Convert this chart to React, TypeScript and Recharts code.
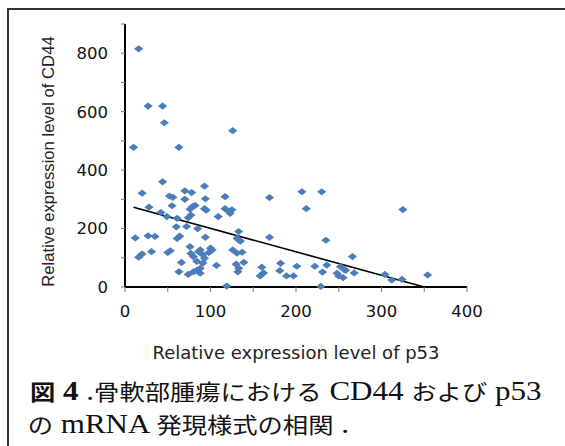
import { Label, ReferenceLine, Scatter, ScatterChart, XAxis, YAxis } from "recharts";

// p53 (x) and CD44 (y) relative expression
const p53 = [
  16, 27, 44, 46, 10, 63, 126, 44, 93, 20,
  52, 56, 70, 78, 70, 94, 117, 169, 207, 230,
  212, 325, 28, 55, 76, 79, 82, 93, 95, 117,
  121, 125, 123, 42, 49, 61, 74, 77, 109, 60,
  72, 85, 133, 12, 27, 35, 61, 64, 94, 131,
  135, 133, 169, 235, 16, 20, 31, 50, 53, 76,
  77, 80, 86, 88, 91, 93, 100, 98, 102, 66,
  84, 91, 88, 84, 88, 80, 74, 63, 107, 126,
  131, 137, 130, 133, 132, 139, 119, 160, 158, 162,
  182, 181, 189, 197, 201, 222, 231, 229, 236, 248,
  252, 256, 250, 255, 258, 266, 268, 304, 312, 324,
  354,
];
const cd44 = [
  815, 619, 619, 562, 478, 478, 535, 360, 345, 321,
  311, 307, 329, 323, 300, 302, 309, 306, 326, 326,
  268, 265, 273, 278, 266, 275, 279, 268, 263, 268,
  260, 264, 252, 255, 241, 235, 237, 246, 241, 206,
  207, 200, 190, 168, 175, 173, 166, 174, 170, 167,
  157, 161, 170, 160, 102, 113, 121, 118, 124, 138,
  115, 104, 121, 127, 110, 98, 133, 118, 127, 84,
  88, 82, 64, 57, 47, 52, 43, 52, 74, 127,
  116, 119, 78, 64, 52, 84, 3, 68, 38, 48,
  81, 56, 38, 38, 71, 71, 51, 2, 75, 47,
  70, 61, 38, 32, 57, 104, 48, 43, 24, 26,
  41,
];

// linear trendline end points
const trendX = [10, 350];
const trendY = [273, 0];

const xTicks = [0, 50, 100, 150, 200, 250, 300, 350, 400];
const yTicks = [0, 100, 200, 300, 400, 500, 600, 700, 800, 900];

const points = p53.map((x, i) => ({ x, y: cd44[i] }));

const MARKER = "#4A7DBA";
const TICK_FONT = { fontFamily: "DejaVu Sans", fontSize: 16.5, fill: "#111" };

function Diamond(props: any) {
  const { cx, cy } = props;
  if (cx == null || cy == null) return null;
  return (
    <polygon
      points={`${cx},${cy - 3.6} ${cx + 4.6},${cy} ${cx},${cy + 3.6} ${cx - 4.6},${cy}`}
      fill={MARKER}
    />
  );
}

function YTitle(props: any) {
  const vb = props.viewBox;
  const cx = vb.x - 16.5;
  const cy = vb.y + vb.height / 2 + 6;
  return (
    <text
      x={cx}
      y={cy}
      transform={`rotate(-90, ${cx}, ${cy})`}
      textAnchor="middle"
      dominantBaseline="central"
      fontFamily="Liberation Sans, Arial"
      fontSize={16.7}
      fill="#222"
    >
      Relative expression level of CD44
    </text>
  );
}

export default function App() {
  return (
    <div style={{ position: "absolute", left: 0, top: 0, width: 565, height: 446, background: "#fff" }}>
      <div
        style={{
          position: "absolute",
          left: 7,
          top: 8,
          width: 558,
          height: 438,
          boxSizing: "border-box",
          borderLeft: "2px solid #333",
          borderTop: "2px solid #333",
        }}
      />
      <div style={{ position: "absolute", left: 0, top: 0 }}>
        <ScatterChart width={565} height={446} margin={{ top: 24, right: 98, left: 65, bottom: 129 }}>
          <XAxis
            type="number"
            dataKey="x"
            domain={[0, 400]}
            ticks={xTicks}
            interval={0}
            height={30}
            axisLine={{ stroke: "#000", strokeWidth: 2 }}
            tickLine={{ stroke: "#777" }}
            tickSize={5}
            tickMargin={13}
            tick={TICK_FONT}
            tickFormatter={(v) => (v % 100 === 0 ? String(v) : "")}
          >
            <Label
              value="Relative expression level of p53"
              position="bottom"
              offset={29}
              style={{ fontFamily: "DejaVu Sans", fontSize: 18, fill: "#222" }}
            />
          </XAxis>
          <YAxis
            type="number"
            dataKey="y"
            domain={[0, 900]}
            ticks={yTicks}
            interval={0}
            width={60}
            axisLine={{ stroke: "#000", strokeWidth: 2 }}
            tickLine={{ stroke: "#777" }}
            tickSize={4}
            tickMargin={13}
            tick={TICK_FONT}
            tickFormatter={(v) => (v % 200 === 0 && v <= 800 ? String(v) : "")}
          >
            <Label content={<YTitle />} />
          </YAxis>
          <Scatter data={points} shape={<Diamond />} isAnimationActive={false} />
          <ReferenceLine
            segment={[
              { x: trendX[0], y: trendY[0] },
              { x: trendX[1], y: trendY[1] },
            ]}
            stroke="#000"
            strokeWidth={1.6}
          />
        </ScatterChart>
      </div>
      <svg
        width={565}
        height={446}
        style={{ position: "absolute", left: 0, top: 0, pointerEvents: "none" }}
      >
        <g transform="translate(30,0) scale(1.15,1)">
          <text x={0} y={399.7} fill="#111" style={{ whiteSpace: "pre" }} fontFamily="Liberation Serif">
            <tspan fontFamily="Noto Sans CJK JP" fontSize={22} fontWeight="bold">図</tspan>
            <tspan fontSize={27} fontWeight="bold"> 4 </tspan>
            <tspan fontSize={27}>.</tspan>
            <tspan fontFamily="Noto Sans CJK JP" fontSize={22}>骨軟部腫瘍における</tspan>
            <tspan fontSize={27}> CD44 </tspan>
            <tspan fontFamily="Noto Sans CJK JP" fontSize={22}>および</tspan>
            <tspan fontSize={27}> p53</tspan>
          </text>
          <text x={-2} y={433} fill="#111" style={{ whiteSpace: "pre" }} fontFamily="Liberation Serif">
            <tspan fontFamily="Noto Sans CJK JP" fontSize={22}>の</tspan>
            <tspan fontSize={27}> mRNA </tspan>
            <tspan fontFamily="Noto Sans CJK JP" fontSize={22}>発現様式の相関</tspan>
            <tspan fontSize={27}> .</tspan>
          </text>
        </g>
      </svg>
    </div>
  );
}
